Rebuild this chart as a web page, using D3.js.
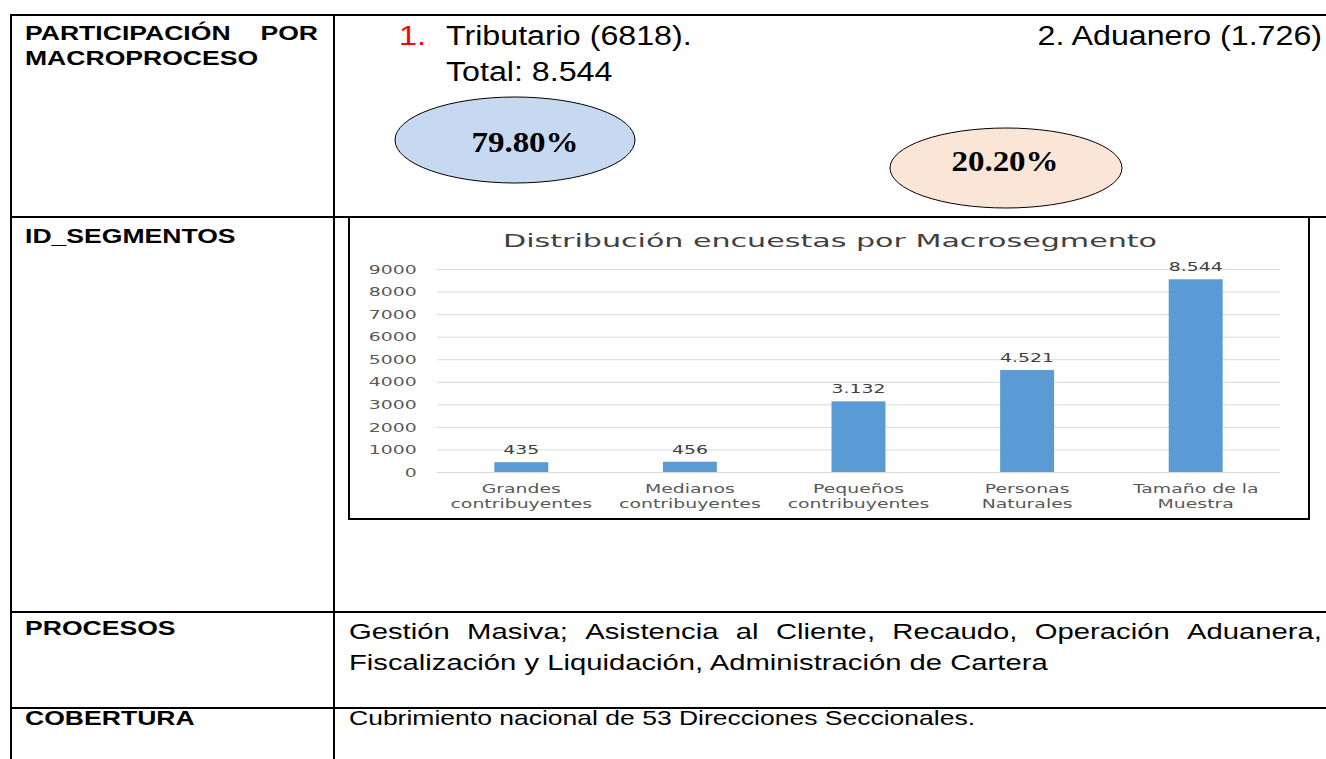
<!DOCTYPE html>
<html>
<head>
<meta charset="utf-8">
<script src="https://cdn.jsdelivr.net/npm/d3@7"></script>
<style>
  body { margin: 0; background: #fff; }
  svg { display: block; }
</style>
</head>
<body>
<svg id="chart" width="1326" height="759"></svg>
<script>
// data
var categories = ["Grandes\ncontribuyentes", "Medianos\ncontribuyentes", "Pequeños\ncontribuyentes", "Personas\nNaturales", "Tamaño de la\nMuestra"];
var values = [435, 456, 3132, 4521, 8544];
var yTicks = [0, 1000, 2000, 3000, 4000, 5000, 6000, 7000, 8000, 9000];
var chartTitle = "Distribución encuestas por Macrosegmento";

var rowLabels = ["PARTICIPACIÓN POR", "MACROPROCESO", "ID_SEGMENTOS", "PROCESOS", "COBERTURA"];
var macroLines = ["Tributario (6818).", "Total: 8.544", "2. Aduanero (1.726)"];
var macroShares = ["79.80%", "20.20%"];
var procesosLines = ["Gestión Masiva; Asistencia al Cliente, Recaudo, Operación Aduanera,", "Fiscalización y Liquidación, Administración de Cartera"];
var coberturaText = "Cubrimiento nacional de 53 Direcciones Seccionales.";

var svg = d3.select('#chart');
var ARIAL = "'Liberation Sans', Arial, sans-serif";
var CHART_FONT = "'DejaVu Sans', Verdana, sans-serif";

// text drawn with a horizontal stretch, like the reference
function stext(parent, str, x, y, o) {
  return parent.append('text')
    .attr('transform', 'translate(' + x + ',' + y + ') scale(' + (o.sx || 1) + ',1)')
    .attr('text-anchor', o.anchor || 'start')
    .style('font-family', o.font)
    .style('font-size', o.size + 'px')
    .style('font-weight', o.weight || 'normal')
    .attr('fill', o.fill || '#000')
    .text(str);
}

// justify words between x0 and x1
function justify(parent, str, x0, x1, y, o) {
  var words = str.split(' ');
  var nodes = words.map(function(w) { return stext(parent, w, 0, y, o); });
  var widths = nodes.map(function(n) { return n.node().getComputedTextLength() * o.sx; });
  var total = d3.sum(widths);
  var gap = (x1 - x0 - total) / (words.length - 1);
  var cx = x0;
  nodes.forEach(function(n, i) {
    n.attr('transform', 'translate(' + cx + ',' + y + ') scale(' + o.sx + ',1)');
    cx += widths[i] + gap;
  });
}

// ---- table grid ----
var grid = svg.append('g').attr('stroke', '#000').attr('stroke-width', 2);
[15, 217, 612, 708].forEach(function(y) {
  grid.append('line').attr('x1', 10).attr('x2', 1326).attr('y1', y).attr('y2', y);
});
[11, 334].forEach(function(x) {
  grid.append('line').attr('x1', x).attr('x2', x).attr('y1', 14).attr('y2', 759);
});

// ---- left column labels ----
var lab = { font: ARIAL, size: 21, weight: 'bold', sx: 1.265 };
var w0 = rowLabels[0].split(' ');
stext(svg, w0[0], 25, 40, lab);
stext(svg, w0[1], 318, 40, Object.assign({}, lab, { anchor: 'end' }));
stext(svg, rowLabels[1], 25, 65, lab);
stext(svg, rowLabels[2], 25, 243, lab);
stext(svg, rowLabels[3], 25, 635, lab);
stext(svg, rowLabels[4], 25, 725, lab);

// ---- macroproceso row ----
var topFont = { font: ARIAL, size: 28, sx: 1.15 };
stext(svg, '1.', 399, 45, Object.assign({}, topFont, { fill: '#ff0000' }));
stext(svg, macroLines[0], 446, 45, topFont);
stext(svg, macroLines[1], 446, 81, topFont);
stext(svg, macroLines[2], 1322, 45, Object.assign({}, topFont, { anchor: 'end' }));

var ellipses = [
  { cx: 515, cy: 140, rx: 120, ry: 43, fill: '#c6d9f0', tx: 525, ty: 152 },
  { cx: 1006, cy: 168, rx: 116, ry: 40, fill: '#fbe5d6', tx: 1005, ty: 171 }
];
ellipses.forEach(function(e, i) {
  svg.append('ellipse')
    .attr('cx', e.cx).attr('cy', e.cy).attr('rx', e.rx).attr('ry', e.ry)
    .attr('fill', e.fill).attr('stroke', '#000').attr('stroke-width', 1);
  stext(svg, macroShares[i], e.tx, e.ty, { font: "'Liberation Serif', 'Times New Roman', serif", size: 30, weight: 'bold', sx: 1.1, anchor: 'middle' });
});

// ---- bar chart ----
var fmt = d3.formatLocale({ decimal: ',', thousands: '.', grouping: [3], currency: ['$', ''] }).format(',d');
var SX = 1.45;

svg.append('rect')
  .attr('x', 349).attr('y', 217).attr('width', 960).attr('height', 302)
  .attr('fill', '#fff').attr('stroke', '#000').attr('stroke-width', 2);

var x = d3.scaleBand().domain(categories).range([437, 1280]);
var y = d3.scaleLinear().domain([0, 9000]).range([472, 269]);
var barW = x.bandwidth() * 0.32;

svg.append('text')
  .attr('x', 830).attr('y', 247)
  .attr('text-anchor', 'middle')
  .attr('textLength', 654).attr('lengthAdjust', 'spacingAndGlyphs')
  .style('font-family', CHART_FONT).style('font-size', '18px')
  .attr('fill', '#404040')
  .text(chartTitle);

svg.append('g').selectAll('line')
  .data(yTicks)
  .join('line')
  .attr('x1', 437).attr('x2', 1280)
  .attr('y1', function(d) { return y(d) + 0.5; })
  .attr('y2', function(d) { return y(d) + 0.5; })
  .attr('stroke', '#d9d9d9').attr('stroke-width', 1);

var yAxis = svg.append('g')
  .attr('transform', 'translate(437,0)')
  .call(d3.axisLeft(y).tickValues(yTicks).tickFormat(d3.format('d')).tickSize(0).tickPadding(14));
yAxis.select('.domain').remove();
yAxis.selectAll('text')
  .attr('transform', 'scale(' + SX + ',1)')
  .style('font-family', CHART_FONT).style('font-size', '13px')
  .attr('fill', '#595959');

svg.append('g').selectAll('rect')
  .data(values)
  .join('rect')
  .attr('x', function(d, i) { return x(categories[i]) + (x.bandwidth() - barW) / 2; })
  .attr('y', function(d) { return y(d); })
  .attr('width', barW)
  .attr('height', function(d) { return y(0) - y(d); })
  .attr('fill', '#5b9bd5');

values.forEach(function(d, i) {
  var cx = x(categories[i]) + x.bandwidth() / 2;
  stext(svg, fmt(d), cx, y(d) - 8, { font: CHART_FONT, size: 13, sx: SX, anchor: 'middle', fill: '#404040' });
  categories[i].split('\n').forEach(function(line, k) {
    stext(svg, line, cx, 493 + k * 15, { font: CHART_FONT, size: 13, sx: SX, anchor: 'middle', fill: '#595959' });
  });
});

// ---- procesos / cobertura ----
var body = { font: ARIAL, size: 22.5, sx: 1.3 };
justify(svg, procesosLines[0], 349, 1322, 639, body);
stext(svg, procesosLines[1], 349, 670, body);
stext(svg, coberturaText, 349, 725, { font: ARIAL, size: 20.4, sx: 1.3 });
</script>
</body>
</html>
